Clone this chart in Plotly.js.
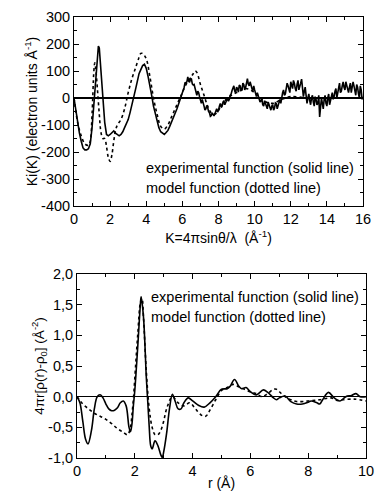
<!DOCTYPE html>
<html>
<head>
<meta charset="utf-8">
<script src="https://cdn.plot.ly/plotly-3.0.1.min.js"></script>
<style>html,body{margin:0;padding:0;background:#fff;}#chart{width:375px;height:491px;}</style>
</head>
<body>
<div id="chart"></div>
<script>
// Top panel: K-space functions
const kExp = [0,0.1,0.2,0.3,0.4,0.5,0.6,0.7,0.8,0.9,1.0,1.1,1.2,1.3,1.35,1.4,1.5,1.6,1.7,1.8,1.9,2.0,2.1,2.2,2.3,2.4,2.5,2.6,2.7,2.8,2.9,3.0,3.1,3.2,3.3,3.4,3.5,3.6,3.7,3.8,3.9,4.0,4.1,4.2,4.3,4.4,4.5,4.6,4.7,4.8,4.9,5.0,5.1,5.2,5.3,5.4,5.5,5.6,5.7,5.8,5.9,
6.0,6.05,6.1,6.15,6.2,6.25,6.3,6.35,6.4,6.45,6.5,6.55,6.6,6.65,6.7,6.75,6.8,6.85,6.9,6.95,
7.0,7.05,7.1,7.15,7.2,7.25,7.3,7.35,7.4,7.45,7.5,7.55,7.6,7.65,7.7,7.75,7.8,7.85,7.9,7.95,
8.0,8.05,8.1,8.15,8.2,8.25,8.3,8.35,8.4,8.45,8.5,8.55,8.6,8.65,8.7,8.75,8.8,8.85,8.9,8.95,
9.0,9.05,9.1,9.15,9.2,9.25,9.3,9.35,9.4,9.45,9.5,9.55,9.6,9.65,9.7,9.75,9.8,9.85,9.9,9.95,
10.0,10.05,10.1,10.15,10.2,10.25,10.3,10.35,10.4,10.45,10.5,10.55,10.6,10.65,10.7,10.75,10.8,10.85,10.9,10.95,
11.0,11.05,11.1,11.15,11.2,11.25,11.3,11.35,11.4,11.45,11.5,11.55,11.6,11.65,11.7,11.75,11.8,11.85,11.9,11.95,
12.0,12.05,12.1,12.15,12.2,12.25,12.3,12.35,12.4,12.45,12.5,12.55,12.6,12.65,12.7,12.75,12.8,12.85,12.9,12.95,
13.0,13.05,13.1,13.15,13.2,13.25,13.3,13.35,13.4,13.45,13.5,13.55,13.6,13.65,13.7,13.75,13.8,13.85,13.9,13.95,
14.0,14.05,14.1,14.15,14.2,14.25,14.3,14.35,14.4,14.45,14.5,14.55,14.6,14.65,14.7,14.75,14.8,14.85,14.9,14.95,
15.0,15.05,15.1,15.15,15.2,15.25,15.3,15.35,15.4,15.45,15.5,15.55,15.6,15.65,15.7,15.75,15.8,15.85,15.9,15.95,16.0];
const kiExp = [0,-50,-100,-130,-160,-185,-192,-192,-188,-170,-110,-20,80,170,192,185,100,0,-90,-135,-140,-135,-130,-122,-130,-135,-140,-135,-125,-110,-95,-80,-55,-30,0,30,60,90,105,120,125,110,80,50,10,-30,-60,-90,-110,-125,-132,-135,-128,-120,-105,-90,-75,-60,-40,-20,0,
15,30,40,58,55,60,78,62,58,72,70,52,48,50,35,18,10,25,20,5,
-15,-20,-5,-15,-30,-45,-40,-28,-35,-50,-55,-68,-65,-55,-62,-66,-58,-48,-40,-52,
-45,-30,-20,-35,-30,-15,-10,-25,-15,-5,0,-12,-5,10,15,28,35,45,25,20,
40,35,22,48,45,28,30,55,50,30,38,55,72,52,45,60,40,35,25,45,
30,15,5,20,10,-5,-15,-10,-5,-25,-30,-10,-20,-35,-40,-15,-25,-35,-45,-30,
-25,-45,-38,-18,-20,-40,-30,-15,-5,-20,5,20,30,10,15,40,55,45,30,20,
60,50,35,65,55,35,25,50,65,30,40,55,70,30,5,25,40,10,-20,0,
15,-10,-25,0,10,-15,-30,5,-5,-25,-20,10,-70,-35,0,-20,-40,-5,10,-20,
-30,0,15,-25,-10,10,20,-5,5,25,35,0,15,40,55,20,25,45,60,40,
30,60,45,25,20,40,55,20,35,60,45,25,10,50,40,15,0,45,30,-5,5];
const kMod = [0,0.2,0.4,0.6,0.8,0.9,1.0,1.1,1.15,1.2,1.3,1.4,1.5,1.6,1.7,1.8,1.9,2.0,2.1,2.2,2.3,2.4,2.6,2.8,3.0,3.2,3.4,3.6,3.7,3.8,4.0,4.2,4.4,4.6,4.8,5.0,5.2,5.4,5.6,5.8,6.0,6.2,6.4,6.6,6.7,6.8,7.0,7.2,7.4,7.6,7.8,8.0,8.2,8.5,9.0,9.5,10.0,10.5,11.0,11.5,12.0,13.0,14.0,15.0,16.0];
const kiMod = [0,-90,-140,-170,-175,-160,-60,100,130,110,30,-60,-130,-150,-150,-180,-220,-235,-210,-160,-120,-100,-80,-40,20,70,110,150,165,165,145,80,0,-60,-105,-115,-100,-70,-40,-10,20,50,70,90,100,95,50,10,-30,-55,-60,-45,-25,0,20,35,20,-10,-20,-5,5,0,0,0,0];

// Bottom panel: r-space functions
const rExp = [0,0.1,0.2,0.3,0.38,0.5,0.6,0.7,0.8,0.9,1.0,1.1,1.2,1.3,1.4,1.5,1.6,1.7,1.8,1.85,1.9,1.95,2.0,2.1,2.2,2.22,2.3,2.4,2.45,2.5,2.55,2.6,2.7,2.8,2.9,2.95,3.0,3.1,3.2,3.3,3.4,3.5,3.6,3.7,3.85,4.0,4.2,4.4,4.6,4.8,5.0,5.2,5.3,5.45,5.6,5.7,5.85,6.0,6.2,6.45,6.6,6.8,6.9,7.0,7.2,7.4,7.6,7.8,8.0,8.1,8.3,8.4,8.5,8.7,8.9,9.1,9.3,9.5,9.65,9.8,10.0];
const gExp = [0,-0.1,-0.4,-0.7,-0.77,-0.55,-0.2,0.0,0.03,-0.02,-0.12,-0.2,-0.23,-0.22,-0.18,-0.1,-0.07,-0.15,-0.5,-0.57,-0.45,-0.15,0.1,0.8,1.55,1.63,1.3,0.3,-0.1,-0.5,-0.8,-0.85,-0.72,-0.8,-0.95,-0.99,-0.9,-0.6,-0.2,0.04,-0.08,-0.2,-0.2,-0.1,-0.02,-0.07,-0.14,-0.17,-0.1,0.0,0.12,0.13,0.17,0.28,0.17,0.13,0.15,0.08,0.03,0.11,0.07,-0.02,-0.05,-0.02,0.01,-0.08,-0.12,-0.12,-0.09,-0.07,-0.1,-0.12,-0.05,0.07,-0.02,-0.07,0.0,0.02,0.05,0.0,0.0];
const rMod = [0,0.2,0.4,0.6,0.8,1.0,1.2,1.4,1.6,1.75,1.85,1.9,1.95,2.0,2.1,2.2,2.25,2.3,2.4,2.5,2.6,2.7,2.8,2.9,3.0,3.1,3.3,3.5,3.7,3.9,4.1,4.3,4.45,4.6,4.8,5.0,5.2,5.4,5.6,5.8,6.0,6.2,6.4,6.6,6.8,6.9,7.0,7.2,7.4,7.6,8.0,8.4,8.8,9.0,9.2,9.6,10.0];
const gMod = [0,-0.12,-0.2,-0.27,-0.32,-0.37,-0.44,-0.52,-0.58,-0.62,-0.5,-0.3,-0.05,0.3,1.0,1.55,1.6,1.3,0.4,-0.2,-0.5,-0.62,-0.62,-0.55,-0.4,-0.2,0.0,-0.1,-0.15,-0.1,-0.2,-0.3,-0.32,-0.22,-0.05,0.1,0.15,0.2,0.16,0.12,0.08,0.05,0.0,0.05,0.12,0.12,0.08,0.0,-0.05,-0.08,-0.07,-0.05,-0.02,-0.06,-0.05,-0.04,-0.07];

const topYTickVals = [300,200,100,0,-100,-200,-300,-400];
const topYTickText = ['300','200','100','0','-100','-200','-300','-400'];
const botYTickVals = [2,1.5,1,0.5,0,-0.5,-1];
const botYTickText = ['2,0','1,5','1,0','0,5','0,0','-0,5','-1,0'];

const labelSolid = 'experimental function (solid line)';
const labelDotted = 'model function (dotted line)';

const FONT = 'Liberation Sans, Arial, sans-serif';
const lineSolid = {color:'#000', width:1.6};
const lineDot = {color:'#000', width:1.6, dash:'dot'};

const traces = [
  {x:kExp, y:kiExp, xaxis:'x', yaxis:'y', mode:'lines', line:lineSolid, hoverinfo:'skip'},
  {x:kMod, y:kiMod, xaxis:'x', yaxis:'y', mode:'lines', line:Object.assign({shape:'spline'},lineDot), hoverinfo:'skip'},
  {x:rExp, y:gExp, xaxis:'x2', yaxis:'y2', mode:'lines', line:Object.assign({shape:'spline'},lineSolid), hoverinfo:'skip'},
  {x:rMod, y:gMod, xaxis:'x2', yaxis:'y2', mode:'lines', line:Object.assign({shape:'spline'},lineDot), hoverinfo:'skip'}
];

const axBase = {
  showline:true, linecolor:'#000', linewidth:1, mirror:'ticks',
  ticks:'inside', ticklen:5, tickwidth:1, tickcolor:'#000',
  showgrid:false, automargin:false,
  tickfont:{family:FONT, size:14.5, color:'#000'}
};

const layout = {
  width:375, height:491,
  margin:{l:0, r:0, t:0, b:0},
  paper_bgcolor:'#fff', plot_bgcolor:'#fff',
  showlegend:false,
  font:{family:FONT, color:'#000'},
  xaxis: Object.assign({}, axBase, {
    domain:[74/375, 363/375], anchor:'y', range:[0,16], dtick:2, tick0:0,
    minor:{dtick:1, ticks:'inside', ticklen:3, tickcolor:'#000'},
    zeroline:false,
    title:{text:'K=4πsinθ/λ  (Å<sup>-1</sup>)', font:{family:FONT, size:14}, standoff:6}
  }),
  yaxis: Object.assign({}, axBase, {
    domain:[1-206/491, 1-17/491], anchor:'x', range:[-400,300],
    tickvals:topYTickVals, ticktext:topYTickText,
    minor:{tickvals:[250,150,50,-50,-150,-250,-350], ticks:'inside', ticklen:3, tickcolor:'#000'},
    zeroline:true, zerolinecolor:'#000', zerolinewidth:1.5,
    title:{text:'Ki(K) (electron units Å<sup>-1</sup>)', font:{family:FONT, size:14}, standoff:0}
  }),
  xaxis2: Object.assign({}, axBase, {
    domain:[77/375, 366/375], anchor:'y2', range:[0,10], dtick:2, tick0:0,
    minor:{dtick:1, ticks:'inside', ticklen:3, tickcolor:'#000'},
    zeroline:false,
    title:{text:'r (Å)', font:{family:FONT, size:14}, standoff:0}
  }),
  yaxis2: Object.assign({}, axBase, {
    domain:[1-458/491, 1-274/491], anchor:'x2', range:[-1,2],
    tickvals:botYTickVals, ticktext:botYTickText,
    minor:{tickvals:[1.75,1.25,0.75,0.25,-0.25,-0.75], ticks:'inside', ticklen:3, tickcolor:'#000'},
    zeroline:true, zerolinecolor:'#000', zerolinewidth:1.5,
    title:{text:'4πr[ρ(r)-ρ<sub>0</sub>] (Å<sup>-2</sup>)', font:{family:FONT, size:13.5}, standoff:0}
  }),
  annotations:[
    {xref:'paper', yref:'paper', x:144/375, y:1-168/491, xanchor:'left', yanchor:'middle', text:labelSolid, showarrow:false, font:{family:FONT, size:14.5, color:'#000'}},
    {xref:'paper', yref:'paper', x:144/375, y:1-188/491, xanchor:'left', yanchor:'middle', text:labelDotted, showarrow:false, font:{family:FONT, size:14.5, color:'#000'}},
    {xref:'paper', yref:'paper', x:149/375, y:1-297/491, xanchor:'left', yanchor:'middle', text:labelSolid, showarrow:false, font:{family:FONT, size:14.5, color:'#000'}},
    {xref:'paper', yref:'paper', x:149/375, y:1-317/491, xanchor:'left', yanchor:'middle', text:labelDotted, showarrow:false, font:{family:FONT, size:14.5, color:'#000'}}
  ]
};

Plotly.newPlot('chart', traces, layout, {staticPlot:true, displayModeBar:false});
</script>
</body>
</html>
